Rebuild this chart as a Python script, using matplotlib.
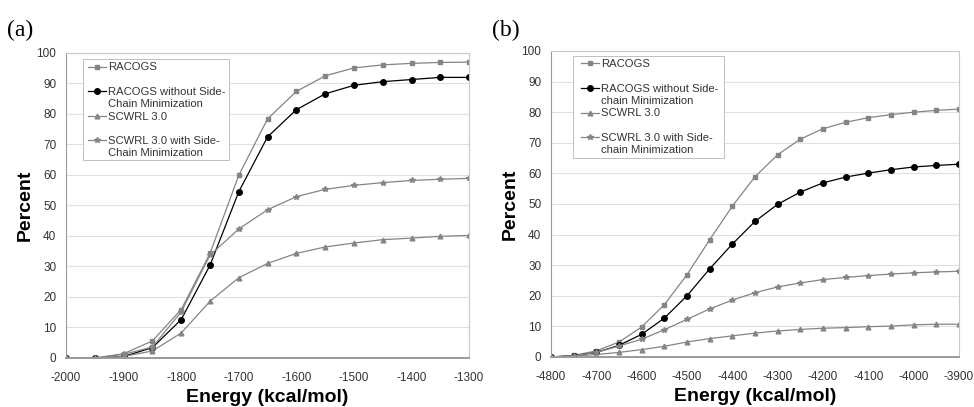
import numpy as np
import matplotlib.pyplot as plt
from matplotlib.patches import Rectangle
from matplotlib.lines import Line2D

plt.rcParams["font.family"] = ["Liberation Sans", "DejaVu Sans"]

# Panel (a) data
energy_a = [-2000, -1950, -1900, -1850, -1800, -1750, -1700, -1650,
            -1600, -1550, -1500, -1450, -1400, -1350, -1300]
racogs_a = [0, 0, 1.4, 5.6, 15.9, 34.3, 59.9, 78.4, 87.4, 92.5, 95.1, 96.1, 96.6, 96.9, 97.0]
racogs_nomin_a = [0, 0, 0.5, 3.4, 12.6, 30.4, 54.5, 72.5, 81.4, 86.6, 89.4, 90.6, 91.3, 92.0, 92.0]
scwrl_a = [0, 0, 0.5, 2.3, 8.2, 18.6, 26.3, 31.0, 34.3, 36.4, 37.7, 38.8, 39.3, 39.9, 40.2]
scwrl_min_a = [0, 0, 1.2, 3.6, 15.1, 33.7, 42.3, 48.6, 52.9, 55.3, 56.6, 57.5, 58.2, 58.6, 58.9]

# Panel (b) data
energy_b = [-4800, -4750, -4700, -4650, -4600, -4550, -4500, -4450, -4400, -4350,
            -4300, -4250, -4200, -4150, -4100, -4050, -4000, -3950, -3900]
racogs_b = [0, 0.5, 2.0, 4.9, 9.8, 17.1, 26.9, 38.3, 49.3, 58.9,
            66.1, 71.2, 74.6, 76.7, 78.2, 79.2, 80.0, 80.6, 81.0]
racogs_nomin_b = [0, 0.4, 1.5, 3.8, 7.4, 12.7, 20.0, 28.8, 36.9, 44.3,
                  49.9, 53.9, 56.9, 58.8, 60.1, 61.2, 62.1, 62.6, 63.0]
scwrl_b = [0, 0.3, 0.8, 1.5, 2.4, 3.5, 4.9, 6.0, 6.9, 7.8,
           8.5, 9.0, 9.4, 9.6, 9.9, 10.1, 10.5, 10.7, 10.7]
scwrl_min_b = [0, 0.4, 1.5, 3.6, 5.8, 8.9, 12.3, 15.7, 18.6, 21.0,
               22.9, 24.2, 25.3, 26.0, 26.6, 27.1, 27.5, 27.8, 28.0]

labels_a = ["RACOGS", "RACOGS without Side-\nChain Minimization",
            "SCWRL 3.0", "SCWRL 3.0 with Side-\nChain Minimization"]
labels_b = ["RACOGS", "RACOGS without Side-\nchain Minimization",
            "SCWRL 3.0", "SCWRL 3.0 with Side-\nchain Minimization"]

grey = "#858585"
styles = [
    dict(color=grey, marker="s", ms=3.2, mfc=grey, mec=grey),
    dict(color="black", marker="o", ms=4.0, mfc="black", mec="black"),
    dict(color=grey, marker="^", ms=3.4, mfc=grey, mec=grey),
    dict(color=grey, marker="*", ms=4.0, mfc=grey, mec=grey),
]

FIG_W, FIG_H = 974, 407


def excel_legend(ax, labels, box, handle_x, text_x):
    """Legend box where every entry takes a two-line slot, text top-aligned."""
    x0, y0, x1, y1 = box  # axes fraction
    h_px = ax.get_position().height * FIG_H
    w_px = ax.get_position().width * FIG_W
    ax.add_patch(Rectangle((x0, y1), x1 - x0, y0 - y1, transform=ax.transAxes,
                           facecolor="white", edgecolor="#c0c0c0", lw=0.7,
                           zorder=5, clip_on=False))
    slot = 24.6 / h_px
    first = 7.5 / h_px
    for i, (lab, st) in enumerate(zip(labels, styles)):
        ty = y0 - first - i * slot
        hx = [x0 + handle_x[0] / w_px, x0 + handle_x[1] / w_px]
        ax.add_line(Line2D(hx, [ty, ty], transform=ax.transAxes, lw=0.9,
                           color=st["color"], zorder=6, clip_on=False))
        ax.add_line(Line2D([sum(hx) / 2], [ty], transform=ax.transAxes, lw=0,
                           zorder=6, clip_on=False, **st))
        ax.text(x0 + text_x / w_px, ty + 4.2 / h_px, lab, transform=ax.transAxes,
                fontsize=8.1, color="#333333", va="top", ha="left",
                linespacing=1.25, zorder=7)


def draw_panel(ax, x, series, labels, xticks, box, handle_x, text_x):
    for y, lab, st in zip(series, labels, styles):
        ax.plot(x, y, lw=0.9, **st)
    ax.set_xlim(xticks[0], xticks[-1])
    ax.set_ylim(0, 100)
    ax.set_xticks(xticks)
    ax.set_xticklabels([str(t) for t in xticks])
    ax.set_yticks(range(0, 101, 10))
    ax.yaxis.grid(True, color="#e0e0e0", lw=0.8)
    ax.set_axisbelow(True)
    for spine in ax.spines.values():
        spine.set_color("#c8c8c8")
        spine.set_linewidth(0.8)
    ax.spines["bottom"].set_color("#9a9a9a")
    ax.spines["bottom"].set_linewidth(1.4)
    ax.spines["left"].set_color("#9a9a9a")
    ax.tick_params(axis="both", labelsize=8.5, colors="#333333", length=0)
    ax.tick_params(axis="y", pad=7)
    ax.tick_params(axis="x", pad=10)
    ax.set_xlabel("Energy (kcal/mol)", fontsize=14, fontweight="bold", labelpad=4)
    ax.set_ylabel("Percent", fontsize=14, fontweight="bold", labelpad=2)
    excel_legend(ax, labels, box, handle_x, text_x)


fig = plt.figure(figsize=(9.74, 4.07), dpi=100)
ax1 = fig.add_axes([0.0678, 0.1204, 0.4138, 0.7494])
ax2 = fig.add_axes([0.5657, 0.1229, 0.4189, 0.7518])

draw_panel(ax1, energy_a, [racogs_a, racogs_nomin_a, scwrl_a, scwrl_min_a],
           labels_a, list(range(-2000, -1299, 100)),
           (0.042, 0.980, 0.404, 0.649), (5, 23), 25)
draw_panel(ax2, energy_b, [racogs_b, racogs_nomin_b, scwrl_b, scwrl_min_b],
           labels_b, list(range(-4800, -3899, 100)),
           (0.054, 0.984, 0.424, 0.650), (8, 26), 28)

fig.text(0.007, 0.925, "(a)", family="Liberation Serif", fontsize=17, va="center")
fig.text(0.505, 0.925, "(b)", family="Liberation Serif", fontsize=17, va="center")

fig.savefig("out.png", dpi=100)
